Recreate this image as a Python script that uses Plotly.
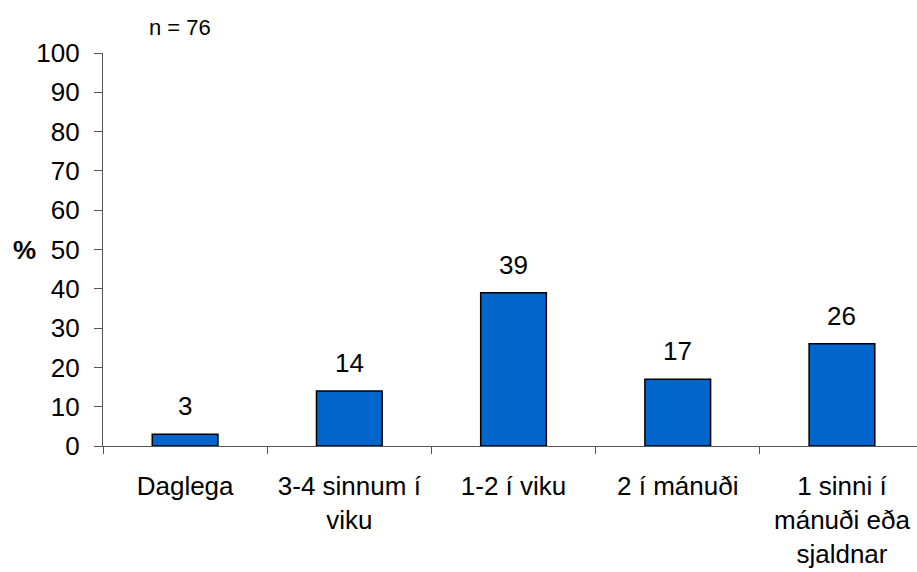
import plotly.graph_objects as go

# Frequency categories (Icelandic) and share of respondents in percent
categories = ["Daglega", "3-4 sinnum í<br>viku", "1-2 í viku", "2 í mánuði",
              "1 sinni í<br>mánuði eða<br>sjaldnar"]
percent = [3, 14, 39, 17, 26]
y_ticks = [0, 10, 20, 30, 40, 50, 60, 70, 80, 90, 100]
sample_note = "n = 76"

FONT = "Liberation Sans, Arial, sans-serif"
AXIS_GREY = "#555555"

fig = go.Figure()
fig.add_trace(go.Bar(
    x=categories,
    y=percent,
    width=0.4,
    marker=dict(color="#0066CC", line=dict(color="#000000", width=1.5)),
    hoverinfo="x+y",
))

# value labels above each bar
for cat, val in zip(categories, percent):
    fig.add_annotation(x=cat, y=val, text=str(val), showarrow=False,
                       yanchor="bottom", yshift=11,
                       font=dict(family=FONT, size=26, color="#000000"))

fig.add_annotation(xref="paper", yref="paper", x=0.0946, y=1.065,
                   text=sample_note, showarrow=False,
                   xanchor="center", yanchor="middle",
                   font=dict(family=FONT, size=22, color="#000000"))
fig.add_annotation(xref="paper", yref="paper", x=-0.097, y=0.498,
                   text="<b>%</b>", showarrow=False,
                   xanchor="center", yanchor="middle",
                   font=dict(family=FONT, size=26, color="#000000"))

fig.update_layout(
    width=917, height=572,
    margin=dict(l=103, r=0, t=53, b=126, pad=0),
    paper_bgcolor="white", plot_bgcolor="white",
    showlegend=False,
    font=dict(family=FONT, size=26, color="#000000"),
    bargap=0.6,
)
fig.update_xaxes(
    type="category",
    range=[-0.5, 4.457],
    showline=True, linecolor=AXIS_GREY, linewidth=1.2,
    ticks="outside", tickson="boundaries", ticklen=7, tickcolor=AXIS_GREY,
    tickwidth=1.2,
    tickfont=dict(family=FONT, size=26, color="#000000"),
    showgrid=False, zeroline=False,
    ticklabelstandoff=17,
)
fig.update_yaxes(
    range=[0, 100],
    tickvals=y_ticks,
    ticktext=[str(t) for t in y_ticks],
    showline=True, linecolor=AXIS_GREY, linewidth=1.2,
    ticks="outside", ticklen=8, tickcolor=AXIS_GREY, tickwidth=1.2,
    tickfont=dict(family=FONT, size=26, color="#000000"),
    showgrid=False, zeroline=False,
    ticklabelstandoff=9,
)

fig.write_html("out.html")
